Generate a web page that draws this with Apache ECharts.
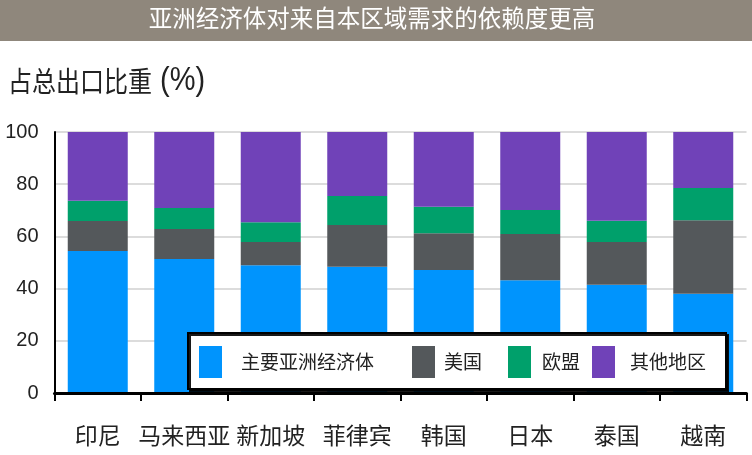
<!DOCTYPE html>
<html><head><meta charset="utf-8">
<script src="https://cdn.jsdelivr.net/npm/echarts@6/dist/echarts.min.js"></script>
<style>html,body{margin:0;padding:0;background:#fff}#c{width:752px;height:455px}</style>
</head><body><div id="c"></div>
<script>
const titleText = '亚洲经济体对来自本区域需求的依赖度更高';
const yNameMain = '占总出口比重';
const yNameUnit = ' (%)';
const categories = ['印尼','马来西亚','新加坡','菲律宾','韩国','日本','泰国','越南'];
const seriesNames = ['主要亚洲经济体','美国','欧盟','其他地区'];
const asia  = [54.4, 51.3, 48.9, 48.4, 47.1, 43.2, 41.5, 38.0];
const us    = [11.5, 11.5,  9.0, 16.0, 14.1, 17.7, 16.4, 28.2];
const eu    = [ 7.8,  8.1,  7.5, 11.1, 10.2,  9.2,  8.1, 12.3];
const other = [26.3, 29.1, 34.6, 24.5, 28.6, 29.9, 34.0, 21.5];
const yTicks = [0, 20, 40, 60, 80, 100];

const colors = ['#0094fd', '#54585b', '#00a06b', '#7042b8'];
const cjk = '"Noto Sans CJK SC", sans-serif';
const latin = '"Liberation Sans", Arial, sans-serif';
const values = [asia, us, eu, other];

const legendLeft = [199, 412, 508, 592];
const legendPad = [14, 4, 6, 10];

const chart = echarts.init(document.getElementById('c'), null, {renderer: 'canvas'});
chart.setOption({
  animation: false,
  backgroundColor: '#fff',
  grid: {left: 54.5, right: 5.5, top: 132, bottom: 62, containLabel: false},
  xAxis: {
    type: 'category',
    data: categories,
    axisLine: {lineStyle: {color: '#000', width: 3}},
    axisTick: {show: true, interval: 0, length: 8, lineStyle: {color: '#000', width: 2}},
    axisLabel: {interval: 0, fontFamily: cjk, fontSize: 23, color: '#222', margin: 31},
    z: 5
  },
  yAxis: {
    type: 'value',
    min: yTicks[0], max: yTicks[yTicks.length - 1], interval: 20,
    axisLine: {show: true, lineStyle: {color: '#000', width: 2}},
    axisTick: {show: false},
    splitLine: {lineStyle: {color: '#dcdcdc', width: 2}},
    axisLabel: {fontFamily: latin, fontSize: 20, color: '#222', margin: 16},
    z: 0
  },
  legend: seriesNames.map((n, i) => ({
    data: [n],
    left: legendLeft[i], top: 346, padding: 0,
    icon: 'rect', itemWidth: 23, itemHeight: 32,
    selectedMode: false,
    textStyle: {fontFamily: cjk, fontSize: 19, color: '#222', padding: [0, 0, 0, legendPad[i]]},
    z: 30
  })),
  graphic: [
    {type: 'rect', left: 0, top: 0, shape: {width: 752, height: 41}, style: {fill: '#8f877c'}, z: 10},
    {type: 'text', x: 372, y: 18, style: {text: titleText, font: '23.5px ' + cjk, fill: '#fff', textAlign: 'center', textVerticalAlign: 'middle'}, z: 11},
    {type: 'text', x: 8, y: 81, scaleY: 1.17, originX: 0, originY: 0, style: {
      text: '{a|' + yNameMain + '}{b|' + yNameUnit + '}',
      textAlign: 'left', textVerticalAlign: 'middle', fill: '#222',
      rich: {
        a: {fontFamily: cjk, fontSize: 24, color: '#222'},
        b: {fontFamily: latin, fontSize: 29, color: '#222'}
      }
    }, z: 11},
    {type: 'rect', shape: {x: 188, y: 333, width: 538, height: 56}, style: {fill: '#fff', stroke: '#000', lineWidth: 2, shadowColor: 'rgba(0,0,0,0.9)', shadowOffsetX: 2, shadowOffsetY: 2, shadowBlur: 0}, z: 20}
  ],
  series: seriesNames.map((n, i) => ({
    name: n, type: 'bar', stack: 'total', data: values[i],
    barWidth: 60,
    itemStyle: {color: colors[i]},
    z: 3
  }))
});
</script></body></html>
